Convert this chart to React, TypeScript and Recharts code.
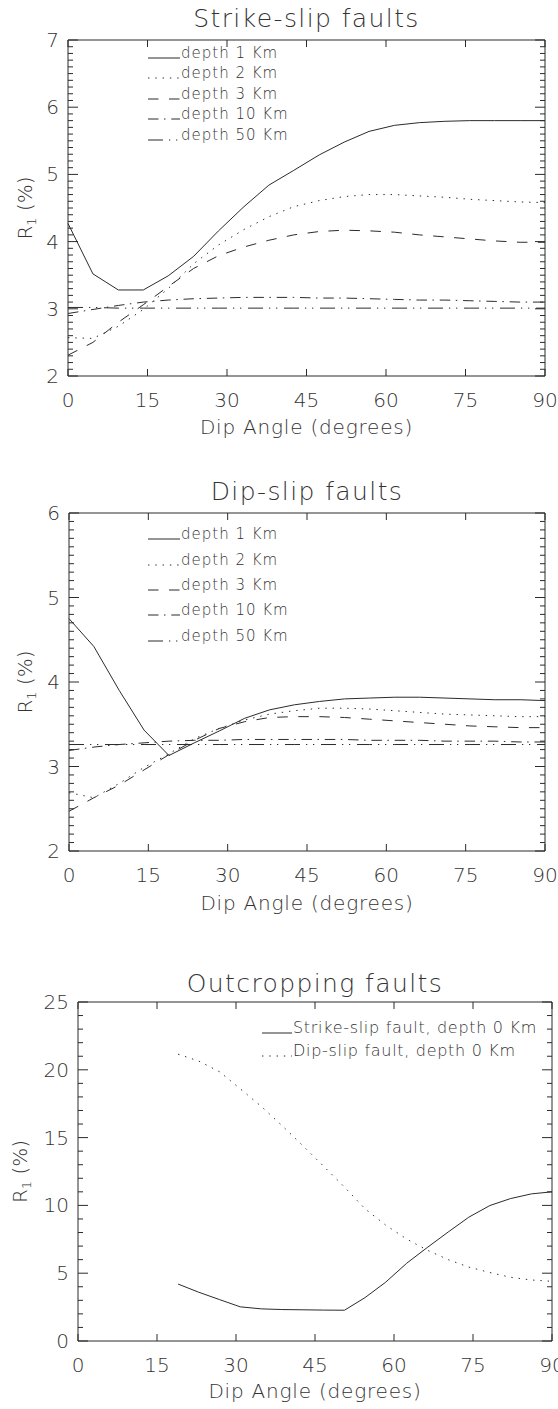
import { Line, LineChart, XAxis, YAxis } from "recharts";

const INK = "#2b2b2b";
const FONT = "'DejaVu Sans', Verdana, sans-serif";

// dip angles (degrees) of the buried-fault runs
const DIP = [0, 4.7, 9.5, 14.2, 18.9, 23.7, 28.4, 33.2, 37.9, 42.6, 47.4, 52.1, 56.8, 61.6, 66.3, 71.1, 75.8, 80.5, 85.3, 90];

// strike-slip faults, R1 (%) per depth
const SS_1 = [4.27, 3.52, 3.28, 3.28, 3.49, 3.78, 4.16, 4.52, 4.84, 5.06, 5.29, 5.48, 5.64, 5.73, 5.77, 5.79, 5.8, 5.8, 5.8, 5.8];
const SS_2 = [2.57, 2.56, 2.74, 2.99, 3.3, 3.67, 3.95, 4.18, 4.37, 4.52, 4.61, 4.67, 4.7, 4.7, 4.68, 4.66, 4.63, 4.61, 4.59, 4.58];
const SS_3 = [2.31, 2.5, 2.8, 3.06, 3.33, 3.6, 3.79, 3.92, 4.02, 4.1, 4.15, 4.17, 4.16, 4.14, 4.1, 4.07, 4.04, 4.01, 3.99, 3.99];
const SS_10 = [2.93, 2.99, 3.05, 3.1, 3.13, 3.15, 3.16, 3.17, 3.17, 3.17, 3.16, 3.16, 3.15, 3.14, 3.13, 3.13, 3.12, 3.11, 3.1, 3.1];
const SS_50 = [3.02, 3.02, 3.01, 3.01, 3.01, 3.01, 3.01, 3.01, 3.01, 3.01, 3.01, 3.01, 3.01, 3.01, 3.01, 3.01, 3.01, 3.01, 3.01, 3.01];

// dip-slip faults, R1 (%) per depth
const DS_1 = [4.75, 4.42, 3.9, 3.43, 3.13, 3.28, 3.42, 3.57, 3.67, 3.73, 3.77, 3.8, 3.81, 3.82, 3.82, 3.81, 3.8, 3.79, 3.79, 3.78];
const DS_2 = [2.69, 2.63, 2.8, 2.99, 3.15, 3.33, 3.45, 3.55, 3.62, 3.66, 3.69, 3.69, 3.68, 3.66, 3.64, 3.62, 3.61, 3.6, 3.59, 3.59];
const DS_3 = [2.47, 2.63, 2.78, 2.96, 3.14, 3.31, 3.45, 3.53, 3.58, 3.59, 3.59, 3.58, 3.56, 3.54, 3.52, 3.5, 3.48, 3.47, 3.46, 3.46];
const DS_10 = [3.19, 3.23, 3.26, 3.28, 3.3, 3.31, 3.31, 3.32, 3.32, 3.32, 3.32, 3.32, 3.31, 3.31, 3.31, 3.3, 3.3, 3.3, 3.29, 3.29];
const DS_50 = [3.26, 3.26, 3.26, 3.26, 3.26, 3.26, 3.26, 3.26, 3.26, 3.26, 3.26, 3.26, 3.26, 3.26, 3.26, 3.26, 3.26, 3.26, 3.26, 3.26];

// outcropping faults (depth 0), only defined from ~19 degrees
const DIP_OUT = [19, 22.9, 26.9, 30.8, 34.8, 38.7, 42.7, 46.6, 50.6, 54.5, 58.4, 62.4, 66.3, 70.3, 74.2, 78.2, 82.1, 86.1, 90];
const OUT_SS = [4.2, 3.6, 3.05, 2.52, 2.37, 2.32, 2.3, 2.28, 2.27, 3.2, 4.33, 5.73, 6.89, 8.04, 9.13, 9.99, 10.5, 10.85, 11.0];
const OUT_DS = [21.15, 20.65, 19.85, 18.6, 17.3, 15.9, 14.4, 12.9, 11.35, 9.75, 8.55, 7.52, 6.7, 6.0, 5.45, 5.05, 4.7, 4.5, 4.4];

const X_TICKS = [0, 15, 30, 45, 60, 75, 90];
const Y_TICKS_SS = [2, 3, 4, 5, 6, 7];
const Y_TICKS_DS = [2, 3, 4, 5, 6];
const Y_TICKS_OUT = [0, 5, 10, 15, 20, 25];

// IDL-like linestyles
const DASH = {
  solid: undefined as string | undefined,
  dotted: "1.4 5.9",
  dashed: "10.5 10.5",
  dashDot: "10.5 5.5 1.5 5.8",
  dashDotDot: "15 6 1.3 5.7 1.3 6.7",
};

type Series = { key: string; name: string; dash?: string };

const BURIED: Series[] = [
  { key: "d1", name: "depth 1 Km", dash: DASH.solid },
  { key: "d2", name: "depth 2 Km", dash: DASH.dotted },
  { key: "d3", name: "depth 3 Km", dash: DASH.dashed },
  { key: "d10", name: "depth 10 Km", dash: DASH.dashDot },
  { key: "d50", name: "depth 50 Km", dash: DASH.dashDotDot },
];

const OUTCROP: Series[] = [
  { key: "ss", name: "Strike-slip fault, depth 0 Km", dash: DASH.solid },
  { key: "ds", name: "Dip-slip fault, depth 0 Km", dash: DASH.dotted },
];

const ssData = DIP.map((dip, i) => ({ dip, d1: SS_1[i], d2: SS_2[i], d3: SS_3[i], d10: SS_10[i], d50: SS_50[i] }));
const dsData = DIP.map((dip, i) => ({ dip, d1: DS_1[i], d2: DS_2[i], d3: DS_3[i], d10: DS_10[i], d50: DS_50[i] }));
const outData = DIP_OUT.map((dip, i) => ({ dip, ss: OUT_SS[i], ds: OUT_DS[i] }));

// tick marks between majors (marks only, no labels)
function withMinor(majors: number[], n: number) {
  const out: number[] = [];
  for (let i = 0; i < majors.length - 1; i++) {
    const step = (majors[i + 1] - majors[i]) / n;
    for (let k = 0; k < n; k++) out.push(+(majors[i] + k * step).toFixed(4));
  }
  out.push(majors[majors.length - 1]);
  return out;
}

const textStyle = { fontFamily: FONT, fill: "#333", fontWeight: 200 };

interface PanelProps {
  top: number;
  height: number;
  plot: { left: number; right: number; top: number; bottom: number };
  data: any[];
  series: Series[];
  yMajor: number[];
  minorPerMajor: number;
  title: string;
  titleY: number;
  axisTitleY: number;
  yLabelX: number;
  legend: { x0: number; x1: number; tx: number; rows: number[]; fontSize: number; spacing: number };
}

function Panel(p: PanelProps) {
  const W = 558;
  const { plot } = p;
  const yDomain: [number, number] = [p.yMajor[0], p.yMajor[p.yMajor.length - 1]];
  const yTicks = withMinor(p.yMajor, p.minorPerMajor);
  const isMajor = (v: number) => p.yMajor.some((m) => Math.abs(m - v) < 1e-6);
  const cx = (plot.left + plot.right) / 2;
  const cy = (plot.top + plot.bottom) / 2 - p.top;

  const bottomTick = (t: any) => (
    <g>
      <line x1={t.x} x2={t.x} y1={t.y} y2={t.y - 7} stroke={INK} />
      <text x={t.x} y={t.y + 31} textAnchor="middle" fontSize={20} {...textStyle}>
        {t.payload.value}
      </text>
    </g>
  );
  const topTick = (t: any) => <line x1={t.x} x2={t.x} y1={t.y} y2={t.y + 7} stroke={INK} />;
  const leftTick = (t: any) => {
    const major = isMajor(t.payload.value);
    return (
      <g>
        <line x1={t.x} x2={t.x + (major ? 10 : 5)} y1={t.y} y2={t.y} stroke={INK} />
        {major && (
          <text x={t.x - 9} y={t.y + 7} textAnchor="end" fontSize={20} {...textStyle}>
            {t.payload.value}
          </text>
        )}
      </g>
    );
  };
  const rightTick = (t: any) => {
    const major = isMajor(t.payload.value);
    return <line x1={t.x} x2={t.x - (major ? 10 : 5)} y1={t.y} y2={t.y} stroke={INK} />;
  };

  const common = { tickSize: 0, tickMargin: 0, tickLine: false, axisLine: { stroke: INK } } as const;

  // axes are 1px thick boxes sitting just outside the plot area
  return (
    <div style={{ position: "absolute", left: 0, top: p.top, width: W, height: p.height }}>
      <LineChart
        width={W}
        height={p.height}
        data={p.data}
        margin={{
          top: plot.top - p.top - 1,
          bottom: p.top + p.height - plot.bottom - 1,
          left: plot.left - 1,
          right: W - plot.right - 1,
        }}
      >
        <XAxis xAxisId="b" type="number" dataKey="dip" domain={[0, 90]} ticks={X_TICKS} interval={0} height={1} tick={bottomTick} {...common} />
        <XAxis xAxisId="t" orientation="top" type="number" dataKey="dip" domain={[0, 90]} ticks={X_TICKS} interval={0} height={1} tick={topTick} {...common} />
        <YAxis yAxisId="l" type="number" domain={yDomain} ticks={yTicks} interval={0} width={1} allowDataOverflow tick={leftTick} {...common} />
        <YAxis yAxisId="r" orientation="right" type="number" domain={yDomain} ticks={yTicks} interval={0} width={1} allowDataOverflow tick={rightTick} {...common} />
        {p.series.map((s) => (
          <Line
            key={s.key}
            xAxisId="b"
            yAxisId="l"
            type="linear"
            dataKey={s.key}
            name={s.name}
            stroke={INK}
            strokeWidth={1}
            strokeDasharray={s.dash}
            dot={false}
            activeDot={false}
            isAnimationActive={false}
          />
        ))}
      </LineChart>

      <svg width={W} height={p.height} style={{ position: "absolute", left: 0, top: 0, pointerEvents: "none" }}>
        <text x={cx} y={p.titleY - p.top} textAnchor="middle" fontSize={25} letterSpacing={1.4} {...textStyle}>
          {p.title}
        </text>
        <text x={cx} y={p.axisTitleY - p.top} textAnchor="middle" fontSize={20} letterSpacing={0.8} {...textStyle}>
          Dip Angle (degrees)
        </text>
        <text transform={`translate(${p.yLabelX + 7},${cy}) rotate(-90)`} textAnchor="middle" fontSize={20} {...textStyle}>
          R
          <tspan fontSize={13} dy={4}>1</tspan>
          <tspan dy={-4}> (%)</tspan>
        </text>
        {p.series.map((s, i) => {
          const y = p.legend.rows[i] - p.top;
          return (
            <g key={s.key}>
              <line x1={p.legend.x0} x2={p.legend.x1} y1={y} y2={y} stroke={INK} strokeDasharray={s.dash} />
              <text x={p.legend.tx} y={y} fontSize={p.legend.fontSize} letterSpacing={p.legend.spacing} {...textStyle}>
                {s.name}
              </text>
            </g>
          );
        })}
      </svg>
    </div>
  );
}

export default function App() {
  return (
    <div style={{ position: "absolute", left: 0, top: 0, width: 558, height: 1409, background: "#fff" }}>
      <Panel
        top={0}
        height={440}
        plot={{ left: 68, right: 545, top: 40, bottom: 376 }}
        data={ssData}
        series={BURIED}
        yMajor={Y_TICKS_SS}
        minorPerMajor={10}
        title="Strike-slip faults"
        titleY={27}
        axisTitleY={434}
        yLabelX={25}
        legend={{ x0: 148, x1: 180, tx: 181, rows: [58, 78, 99, 119, 140], fontSize: 15, spacing: 1 }}
      />
      <Panel
        top={460}
        height={460}
        plot={{ left: 69, right: 545, top: 513, bottom: 851 }}
        data={dsData}
        series={BURIED}
        yMajor={Y_TICKS_DS}
        minorPerMajor={10}
        title="Dip-slip faults"
        titleY={500}
        axisTitleY={910}
        yLabelX={25}
        legend={{ x0: 148, x1: 180, tx: 181, rows: [539, 565, 590, 615, 641], fontSize: 15, spacing: 1 }}
      />
      <Panel
        top={960}
        height={449}
        plot={{ left: 78, right: 552, top: 1002, bottom: 1341 }}
        data={outData}
        series={OUTCROP}
        yMajor={Y_TICKS_OUT}
        minorPerMajor={5}
        title="Outcropping faults"
        titleY={992}
        axisTitleY={1398}
        yLabelX={20}
        legend={{ x0: 262, x1: 292, tx: 293, rows: [1033, 1056], fontSize: 16, spacing: 0.7 }}
      />
    </div>
  );
}
